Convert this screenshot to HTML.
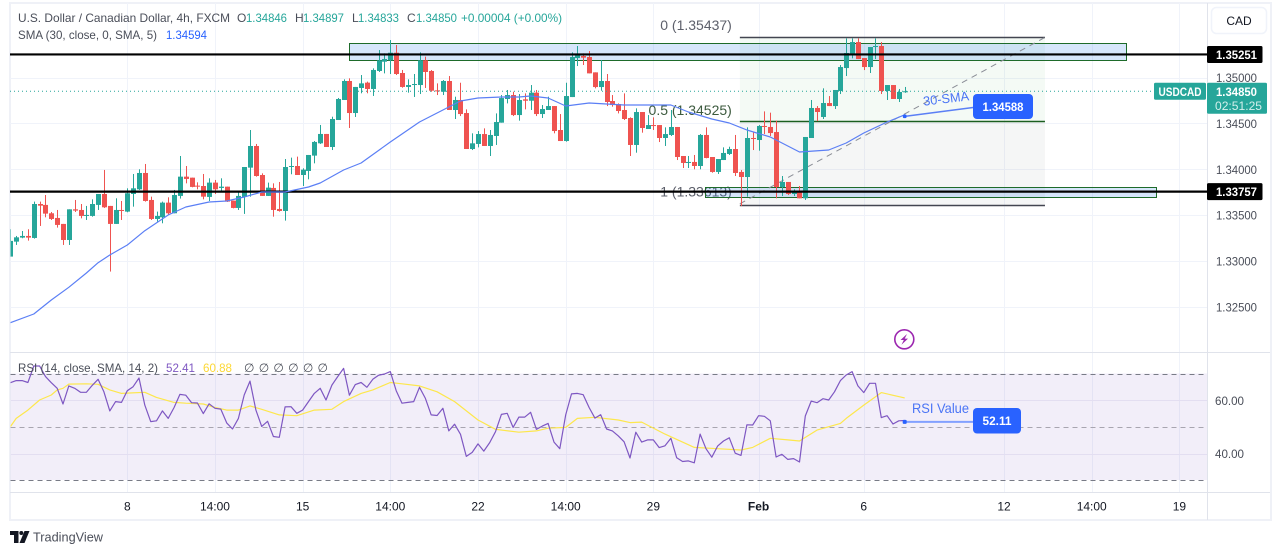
<!DOCTYPE html>
<html lang="en">
<head>
<meta charset="utf-8">
<title>USD/CAD 4h chart</title>
<style>
html,body{margin:0;padding:0;background:#fff;}
body{width:1281px;height:555px;overflow:hidden;}
svg{display:block;font-family:"Liberation Sans","DejaVu Sans",sans-serif;}
</style>
</head>
<body>
<svg id="chart" xmlns="http://www.w3.org/2000/svg" width="1281" height="555" viewBox="0 0 1281 555">
  <defs><clipPath id="pane-clip"><rect x="10.5" y="3" width="1196.5" height="349"/></clipPath>
  <clipPath id="rsi-clip"><rect x="10.5" y="353" width="1196.5" height="139"/></clipPath></defs>
  <rect x="10" y="3" width="1261" height="517" fill="#fff" stroke="#eff1f7" stroke-width="2"/>
  <g id="grid"></g>
  <rect x="10.5" y="373.5" width="1196.5" height="106.5" fill="#7e57c2" fill-opacity="0.1"/>
  <g id="rsi-grid"></g>
  <g id="drawings-back" clip-path="url(#pane-clip)"></g>
  <g id="candles" clip-path="url(#pane-clip)"></g>
  <g id="levels"></g>
  <g id="sma" clip-path="url(#pane-clip)"></g>
  <g id="rsi-lines" clip-path="url(#rsi-clip)"></g>
  <line x1="10" y1="352.5" x2="1270" y2="352.5" stroke="#e0e3eb" stroke-width="1"/>
  <line x1="10" y1="492.5" x2="1270" y2="492.5" stroke="#e0e3eb" stroke-width="1"/>
  <line x1="1207.5" y1="3" x2="1207.5" y2="520" stroke="#e0e3eb" stroke-width="1"/>
  <g id="axes"></g>

  <g font-size="12" fill="#4a4e59">
    <text x="18" y="22" textLength="212" lengthAdjust="spacingAndGlyphs">U.S. Dollar / Canadian Dollar, 4h, FXCM</text>
    <text x="237" y="22">O</text>
    <text x="246" y="22" fill="#26a69a" textLength="41" lengthAdjust="spacingAndGlyphs">1.34846</text>
    <text x="295" y="22">H</text>
    <text x="303" y="22" fill="#26a69a" textLength="41" lengthAdjust="spacingAndGlyphs">1.34897</text>
    <text x="352" y="22">L</text>
    <text x="358" y="22" fill="#26a69a" textLength="41" lengthAdjust="spacingAndGlyphs">1.34833</text>
    <text x="407" y="22">C</text>
    <text x="416" y="22" fill="#26a69a" textLength="41" lengthAdjust="spacingAndGlyphs">1.34850</text>
    <text x="461" y="22" fill="#26a69a" textLength="101" lengthAdjust="spacingAndGlyphs">+0.00004 (+0.00%)</text>
    <text x="18" y="39" textLength="139" lengthAdjust="spacingAndGlyphs">SMA (30, close, 0, SMA, 5)</text>
    <text x="166" y="39" fill="#2962ff" textLength="41" lengthAdjust="spacingAndGlyphs">1.34594</text>
    <text x="18" y="372" textLength="140" lengthAdjust="spacingAndGlyphs">RSI (14, close, SMA, 14, 2)</text>
    <text x="166" y="372" fill="#7e57c2" textLength="29" lengthAdjust="spacingAndGlyphs">52.41</text>
    <text x="203" y="372" fill="#fdd835" textLength="29" lengthAdjust="spacingAndGlyphs">60.88</text>
    <text x="244" y="372" textLength="84" lengthAdjust="spacing">∅ ∅ ∅ ∅ ∅ ∅</text>
  </g>

  <g>
    <rect x="1211.5" y="7.5" width="55" height="26" rx="5" fill="#fff" stroke="#f0f3fa" stroke-width="1.5"/>
    <text x="1239" y="25" font-size="12" fill="#131722" text-anchor="middle">CAD</text>
  </g>

  <g id="annotations"></g>

  <g>
    <circle cx="904.3" cy="339.3" r="9.5" fill="#fff" stroke="#9c27b0" stroke-width="1.6"/>
    <polygon points="907,334 900.5,340 903.8,340 901.5,344.8 908,338.6 904.7,338.6" fill="#9c27b0"/>
  </g>

  <g>
    <polygon points="10,531 18.5,531 18.5,543 14,543 14,535 10,535" fill="#131722"/>
    <circle cx="21.3" cy="533" r="2" fill="#131722"/>
    <polygon points="24.5,531 29.5,531 24.5,543 19.5,543" fill="#131722"/>
    <text x="33" y="541.5" font-size="13" fill="#4a4e59" textLength="70" lengthAdjust="spacingAndGlyphs">TradingView</text>
  </g>
</svg>

<script>
const opens=[1.33049,1.33212,1.33256,1.33274,1.33252,1.33622,1.33612,1.33521,1.33470,1.33405,
1.33230,1.33564,1.33557,1.33492,1.33492,1.33612,1.33731,1.33601,1.33405,1.33557,
1.33539,1.33731,1.33782,1.33960,1.33666,1.33459,1.33477,1.33637,1.33521,1.33710,
1.33920,1.33909,1.33822,1.33818,1.33699,1.33855,1.33797,1.33811,1.33659,1.33579,
1.33699,1.34018,1.34254,1.33938,1.33710,1.33797,1.33568,1.33546,1.34029,1.34036,
1.33938,1.33982,1.34149,1.34283,1.34385,1.34243,1.34537,1.34755,1.34962,1.34613,
1.34886,1.34944,1.34875,1.35071,1.35172,1.35187,1.35270,1.35049,1.34897,1.34922,
1.34918,1.35187,1.35071,1.34860,1.34845,1.34962,1.34646,1.34755,1.34613,1.34221,
1.34276,1.34384,1.34254,1.34363,1.34508,1.34766,1.34809,1.34591,1.34762,1.34747,
1.34835,1.34602,1.34646,1.34689,1.34428,1.34308,1.34787,1.35212,1.35234,1.35223,
1.35056,1.34896,1.34962,1.34744,1.34711,1.34646,1.34559,1.34265,1.34624,1.34439,
1.34482,1.34482,1.34341,1.34374,1.34461,1.34145,1.34069,1.34080,1.34036,1.34374,
1.34134,1.33971,1.34101,1.34167,1.34221,1.33971,1.33916,1.34341,1.34319,1.34472,
1.34461,1.34406,1.33807,1.33862,1.33731,1.33757,1.33684,1.34341,1.34668,1.34570,
1.34722,1.34689,1.34853,1.35103,1.35256,1.35386,1.35212,1.35114,1.35339,1.35343,
1.34853,1.34918,1.34766,1.34846];
const highs=[1.33347,1.33274,1.33328,1.33347,1.33648,1.33648,1.33720,1.33535,1.33557,1.33405,
1.33564,1.33666,1.33622,1.33601,1.33673,1.33731,1.33993,1.33601,1.33684,1.33655,
1.33793,1.33949,1.34000,1.34058,1.33702,1.33539,1.33648,1.33695,1.33775,1.34145,
1.34036,1.33909,1.33858,1.33949,1.33902,1.33884,1.33902,1.33811,1.33659,1.33753,
1.34025,1.34428,1.34276,1.33956,1.33855,1.33847,1.33862,1.34112,1.34127,1.34138,
1.34011,1.34156,1.34308,1.34483,1.34385,1.34573,1.34777,1.34980,1.34991,1.34897,
1.35027,1.34955,1.35100,1.35299,1.35263,1.35408,1.35354,1.35082,1.34980,1.35038,
1.35274,1.35227,1.35081,1.34936,1.34972,1.35016,1.34791,1.34943,1.34653,1.34392,
1.34417,1.34446,1.34428,1.34609,1.34809,1.34864,1.34845,1.34820,1.34827,1.34918,
1.34864,1.34700,1.34791,1.34689,1.34602,1.34943,1.35274,1.35343,1.35263,1.35288,
1.35056,1.35190,1.35038,1.34809,1.34718,1.34827,1.34566,1.34664,1.34624,1.34591,
1.34566,1.34482,1.34457,1.34646,1.34461,1.34145,1.34145,1.34156,1.34384,1.34457,
1.34134,1.34112,1.34239,1.34246,1.34374,1.33992,1.34457,1.34410,1.34482,1.34631,
1.34617,1.34530,1.33927,1.33862,1.33782,1.33818,1.34352,1.34755,1.34689,1.34882,
1.34798,1.34864,1.35136,1.35426,1.35426,1.35426,1.35212,1.35332,1.35426,1.35386,
1.34918,1.34918,1.34875,1.34897];
const lows=[1.33049,1.33176,1.33249,1.33223,1.33245,1.33383,1.33477,1.33448,1.33365,1.33176,
1.33176,1.33535,1.33466,1.33448,1.33484,1.33557,1.33579,1.32886,1.33405,1.33448,
1.33532,1.33593,1.33775,1.33648,1.33448,1.33430,1.33412,1.33503,1.33521,1.33681,
1.33847,1.33804,1.33782,1.33673,1.33655,1.33731,1.33764,1.33644,1.33575,1.33557,
1.33514,1.33702,1.33920,1.33710,1.33710,1.33484,1.33539,1.33441,1.33946,1.33938,
1.33818,1.33891,1.34065,1.34276,1.34243,1.34210,1.34537,1.34755,1.34450,1.34570,
1.34828,1.34828,1.34799,1.35060,1.35045,1.35038,1.35027,1.34889,1.34835,1.34788,
1.34820,1.34886,1.34845,1.34809,1.34809,1.34646,1.34548,1.34580,1.34221,1.34210,
1.34239,1.34254,1.34145,1.34265,1.34508,1.34718,1.34580,1.34530,1.34653,1.34646,
1.34580,1.34559,1.34646,1.34392,1.34308,1.34301,1.34787,1.35125,1.35136,1.35045,
1.34882,1.34856,1.34689,1.34682,1.34609,1.34537,1.34145,1.34181,1.34399,1.34439,
1.34428,1.34297,1.34254,1.34363,1.34101,1.34014,1.34014,1.34000,1.34000,1.34120,
1.33963,1.33949,1.34101,1.34156,1.33927,1.33600,1.33702,1.34210,1.34203,1.34384,
1.34363,1.33684,1.33709,1.33720,1.33709,1.33684,1.33666,1.34341,1.34526,1.34548,
1.34689,1.34657,1.34820,1.35016,1.35209,1.35201,1.35081,1.35049,1.35201,1.34820,
1.34755,1.34766,1.34733,1.34833];
const closes=[1.33220,1.33259,1.33274,1.33256,1.33622,1.33604,1.33517,1.33459,1.33394,1.33230,
1.33564,1.33550,1.33492,1.33503,1.33622,1.33731,1.33586,1.33405,1.33557,1.33546,
1.33739,1.33793,1.33960,1.33655,1.33459,1.33492,1.33637,1.33521,1.33720,1.33920,
1.33895,1.33808,1.33811,1.33702,1.33855,1.33782,1.33811,1.33648,1.33579,1.33710,
1.34025,1.34254,1.33927,1.33710,1.33800,1.33557,1.33546,1.34025,1.34036,1.33938,
1.33996,1.34156,1.34298,1.34385,1.34243,1.34548,1.34766,1.34962,1.34613,1.34897,
1.34936,1.34875,1.35082,1.35187,1.35201,1.35270,1.35038,1.34897,1.34918,1.34929,
1.35187,1.35060,1.34856,1.34849,1.34962,1.34646,1.34755,1.34602,1.34221,1.34283,
1.34384,1.34254,1.34374,1.34515,1.34776,1.34809,1.34591,1.34755,1.34747,1.34835,
1.34602,1.34657,1.34689,1.34417,1.34308,1.34798,1.35223,1.35245,1.35216,1.35045,
1.34896,1.34962,1.34733,1.34700,1.34635,1.34548,1.34265,1.34624,1.34450,1.34482,
1.34472,1.34341,1.34384,1.34461,1.34134,1.34069,1.34080,1.34036,1.34374,1.34123,
1.33971,1.34112,1.34178,1.34221,1.33960,1.33916,1.34341,1.34330,1.34472,1.34461,
1.34395,1.33807,1.33862,1.33731,1.33764,1.33684,1.34352,1.34668,1.34624,1.34722,
1.34689,1.34864,1.35114,1.35267,1.35386,1.35201,1.35114,1.35332,1.35343,1.34853,
1.34918,1.34766,1.34842,1.34850];

const smaBars=[0,4,7,10,13,15,17,20,23,27,30,34,37,40,43,47,51,53,57,60,65,67,70,72,75,77,80,84,87,89,92,95,99,102,105,106,109,113,116,120,123,126,130,135,140,143,146,150,153];
const smaValues=[1.32329,1.32424,1.32576,1.32715,1.32870,1.32983,1.33066,1.33175,1.33331,1.33502,1.33589,1.33644,1.33655,1.33698,1.33753,1.33753,1.33807,1.33851,1.33992,1.34069,1.34297,1.34385,1.34515,1.34581,1.34679,1.34744,1.34777,1.34788,1.34788,1.34798,1.34777,1.34690,1.34722,1.34711,1.34700,1.34700,1.34700,1.34700,1.34624,1.34548,1.34504,1.34428,1.34352,1.34188,1.34210,1.34286,1.34395,1.34515,1.34594];

const rsiValues=[66.6,67.4,67.4,66.7,72.9,72.9,68.9,66.6,64.5,58.6,65.4,64.5,63.0,63.0,65.6,67.9,63.2,56.0,59.5,59.2,
63.6,65.1,68.4,58.2,52.0,52.3,56.0,53.2,57.3,62.2,61.9,59.1,59.0,55.0,58.7,57.0,56.7,51.5,49.2,53.2,
62.0,67.2,56.3,50.2,52.1,46.4,46.1,57.5,57.6,55.1,56.3,59.5,62.6,64.5,60.1,65.7,68.9,72.0,61.9,65.9,
66.7,64.9,67.9,69.4,69.9,70.8,63.6,58.9,59.2,59.5,64.9,60.7,54.5,54.3,57.0,48.5,51.0,47.2,38.9,40.4,
43.6,40.9,44.1,48.2,54.7,55.1,49.8,53.7,53.7,55.5,49.1,50.3,51.3,44.3,41.8,54.5,62.4,62.6,62.1,57.3,
53.3,54.6,49.2,48.5,46.6,44.4,38.3,48.0,44.3,45.1,45.1,42.2,42.9,45.7,38.4,37.0,37.2,36.5,47.3,41.8,
38.6,42.8,44.7,45.9,40.1,39.3,50.8,50.7,54.2,54.0,52.3,38.7,39.7,37.8,38.1,36.8,54.1,59.7,59.1,60.6,
60.1,63.2,67.4,69.5,70.8,65.4,62.9,66.4,66.4,53.5,54.2,51.1,52.3,52.4];

const rsiSmaBars=[0,1,3,5,7,8,9,10,13,15,17,19,23,25,28,30,33,35,37,39,41,43,46,49,52,55,57,60,62,65,67,70,73,76,80,83,87,90,92,95,97,100,104,106,108,112,117,121,125,127,130,133,135,138,142,143,146,149,153];
const rsiSmaValues=[50.1,53.2,56.3,60.1,62.0,63.9,64.5,66.1,66.2,66.0,63.9,62.6,63.0,61.1,59.2,58.9,58.6,57.3,56.3,56.3,57.9,56.6,54.5,54.2,56.3,56.6,59.5,62.6,63.9,66.7,66.2,65.4,63.2,59.5,52.6,49.1,48.0,48.5,49.5,49.8,53.2,53.6,52.6,51.6,51.8,47.3,42.3,41.8,41.3,42.3,45.7,45.1,44.7,48.8,51.3,53.2,58.2,62.9,60.9];

const priceTicks=[1.35,1.345,1.34,1.335,1.33,1.325];
const rsiTicks=[60,40];
const rsiBands=[70,50,30];
const timeBars=[20,35,50,65,80,95,110,128,146,170,185,200];
const timeLabels=["8","14:00","15","14:00","22","14:00","29","Feb","6","12","14:00","19"];
const keyLevels=[1.35251,1.33757];
const lastPrice=1.3485;
const fibLevels=[1.35437,1.34525,1.33613];
const fibNames=["0","0.5","1"];
const zoneTop=[1.35373,1.35187];
const zoneBottom=[1.33810,1.33701];
const smaNote=1.34588;
const rsiNote=52.11;

const NS="http://www.w3.org/2000/svg";
const xBar=i=>10.4+5.845*i;
const yPrice=p=>77.5+(1.35-p)*9180;
const yRsi=v=>400.3+(60-v)*2.66;
const UP="#26a69a",DOWN="#ef5350";
function mk(parent,tag,attrs,text){
  const el=document.createElementNS(NS,tag);
  for(const k in attrs)el.setAttribute(k,attrs[k]);
  if(text!==undefined)el.textContent=text;
  parent.appendChild(el);
  return el;
}
const $=id=>document.getElementById(id);
let el;

/* grid */
timeBars.forEach((b,k)=>{
  const x=Math.round(xBar(b))+0.5;
  el=mk($("grid"),"line",{x1:x,x2:x,y1:3,y2:492,stroke:"#f0f3fa","stroke-width":1});
  
  
  el=mk($("axes"),"text",{x:xBar(b),y:510.5,"font-size":12,"text-anchor":"middle",fill:"#131722","font-weight":timeLabels[k]==="Feb"?"bold":"normal"},timeLabels[k]);
  
  
});
priceTicks.forEach(p=>{
  const y=Math.round(yPrice(p))+0.5;
  el=mk($("grid"),"line",{x1:10,x2:1207,y1:y,y2:y,stroke:"#f0f3fa","stroke-width":1});
  
  
  el=mk($("axes"),"text",{x:1216,y:yPrice(p)+4.5,"font-size":12,fill:"#4a4e59",textLength:41,lengthAdjust:"spacingAndGlyphs"},p.toFixed(5));
  
  
});
rsiTicks.forEach(v=>{
  const y=Math.round(yRsi(v))+0.5;
  el=mk($("rsi-grid"),"line",{x1:10.5,x2:1207,y1:y,y2:y,stroke:"#e3def1","stroke-width":1});
  
  
  el=mk($("axes"),"text",{x:1215,y:yRsi(v)+4.5,"font-size":12,fill:"#4a4e59",textLength:29,lengthAdjust:"spacingAndGlyphs"},v.toFixed(2));
  
  
});
rsiBands.forEach(v=>{
  const y=Math.round(yRsi(v))+0.5;
  el=mk($("rsi-grid"),"line",{x1:10.5,x2:1207,y1:y,y2:y,stroke:v===50?"#a8a5b0":"#787b86","stroke-width":1,"stroke-dasharray":"5 4"});
  
  
});

/* fib retracement and zones */
const back=$("drawings-back");
const fx1=xBar(124.8),fx2=xBar(177);
el=mk(back,"rect",{x:fx1,y:yPrice(fibLevels[0]),width:fx2-fx1,height:yPrice(fibLevels[1])-yPrice(fibLevels[0]),fill:"#4caf50","fill-opacity":0.06});


el=mk(back,"rect",{x:fx1,y:yPrice(fibLevels[1]),width:fx2-fx1,height:yPrice(fibLevels[2])-yPrice(fibLevels[1]),fill:"#787b86","fill-opacity":0.07});


fibLevels.forEach((p,k)=>{
  el=mk(back,"text",{x:fx1-8,y:yPrice(p)-(k===1?6:7.5)+(k===2?-1:0),"font-size":14,"text-anchor":"end",fill:k===1?"#3c5a3e":"#5d606b"},fibNames[k]+" ("+p.toFixed(5)+")");
  
  
});
[[58,191,zoneTop],[118.8,196,zoneBottom]].forEach(z=>{
  el=mk(back,"rect",{x:Math.round(xBar(z[0]))+0.5,y:Math.round(yPrice(z[2][0]))+0.5,width:Math.round(xBar(z[1])-xBar(z[0])),height:Math.round(yPrice(z[2][1])-yPrice(z[2][0])),fill:"#3282eb","fill-opacity":0.2,stroke:"#1e6b2a","stroke-width":1});
  
  
});
fibLevels.forEach((p,k)=>{
  const col=k===1?"#1b5e20":"#434651";
  const y=Math.round(yPrice(p))+0.5;
  el=mk(back,"line",{x1:fx1,x2:fx2,y1:y,y2:y,stroke:col,"stroke-width":k===1?1.6:1.4});
  
  
});
el=mk(back,"line",{x1:fx1,y1:yPrice(fibLevels[2])-1,x2:fx2,y2:yPrice(fibLevels[0]),stroke:"#8a8d96","stroke-width":1,"stroke-dasharray":"6 5"});



/* candles */
opens.forEach((o,i)=>{
  const c=closes[i],col=c>=o?UP:DOWN,xc=Math.round(xBar(i));
  const g=mk($("candles"),"g",{fill:col});
  
  
  const yH=yPrice(highs[i]),yL=yPrice(lows[i]);
  el=mk(g,"rect",{x:xc,y:yH,width:1,height:Math.max(1,yL-yH)});
  
  
  const yT=yPrice(Math.max(o,c)),yB=yPrice(Math.min(o,c));
  el=mk(g,"rect",{x:xc-2,y:yT,width:5,height:Math.max(1,yB-yT)});
  
  
});

/* key levels and last price */
keyLevels.forEach(p=>{
  el=mk($("levels"),"line",{x1:10,x2:1207,y1:yPrice(p),y2:yPrice(p),stroke:"#000","stroke-width":2.2});
  
  
  const y=yPrice(p);
  el=mk($("axes"),"rect",{x:1207,y:y-8.5,width:55.5,height:17,rx:1.5,fill:"#000"});
  
  
  el=mk($("axes"),"text",{x:1216,y:y+4.5,"font-size":12,"font-weight":"bold",fill:"#fff",textLength:41,lengthAdjust:"spacingAndGlyphs"},p.toFixed(5));
  
  
});
el=mk($("levels"),"line",{x1:10,x2:1154,y1:yPrice(lastPrice),y2:yPrice(lastPrice),stroke:UP,"stroke-width":1,"stroke-dasharray":"1 3"});


const yLast=yPrice(lastPrice);
el=mk($("axes"),"rect",{x:1154,y:yLast-8.5,width:52,height:17,rx:1.5,fill:UP});


el=mk($("axes"),"text",{x:1180,y:yLast+4.5,"font-size":12,"font-weight":"bold",fill:"#fff","text-anchor":"middle",textLength:43,lengthAdjust:"spacingAndGlyphs"},"USDCAD");


el=mk($("axes"),"rect",{x:1207,y:yLast-8.5,width:60,height:31,rx:1.5,fill:UP});


el=mk($("axes"),"text",{x:1216,y:yLast+4.5,"font-size":12,"font-weight":"bold",fill:"#fff",textLength:41,lengthAdjust:"spacingAndGlyphs"},lastPrice.toFixed(5));


el=mk($("axes"),"text",{x:1215,y:yLast+18.5,"font-size":12,fill:"#d4f0ec",textLength:47,lengthAdjust:"spacingAndGlyphs"},"02:51:25");



/* lines */
const poly=(xs,ys,fx,fy)=>xs.map((v,k)=>fx(v).toFixed(1)+","+fy(ys[k]).toFixed(1)).join(" ");
el=mk($("sma"),"polyline",{points:poly(smaBars,smaValues,xBar,yPrice),fill:"none",stroke:"#5b7ff5","stroke-width":1.2,"stroke-linejoin":"round"});


el=mk($("rsi-lines"),"polyline",{points:poly(rsiSmaBars,rsiSmaValues,xBar,yRsi),fill:"none",stroke:"#fde74c","stroke-width":1.2,"stroke-linejoin":"round"});


el=mk($("rsi-lines"),"polyline",{points:poly(rsiValues.map((v,i)=>i),rsiValues,xBar,yRsi),fill:"none",stroke:"#7e57c2","stroke-width":1.2,"stroke-linejoin":"round"});



/* annotations */
const ann=$("annotations");
const ax=xBar(153);
const smaY=yPrice(smaNote)+1,smaEndY=107.3,rsiY=yRsi(rsiNote)+0.6;
el=mk(ann,"line",{x1:ax,y1:smaY,x2:975,y2:smaEndY,stroke:"#5b7ff5","stroke-width":1.5});


el=mk(ann,"rect",{x:ax-1.8,y:smaY-1.8,width:3.6,height:3.6,rx:1,fill:"#2962ff"});


el=mk(ann,"rect",{x:973,y:94,width:60,height:25,rx:4,fill:"#2962ff"});


el=mk(ann,"text",{x:1003,y:111,"font-size":12,"font-weight":"bold",fill:"#fff","text-anchor":"middle",textLength:41,lengthAdjust:"spacingAndGlyphs"},smaNote.toFixed(5));


el=mk(ann,"text",{x:946,y:103,"font-size":13,fill:"#4a74f5","text-anchor":"middle",textLength:46,lengthAdjust:"spacingAndGlyphs",transform:"rotate(-7 946 98)"},"30-SMA");


el=mk(ann,"line",{x1:ax,y1:rsiY,x2:975,y2:rsiY,stroke:"#82a0ff","stroke-width":2});


el=mk(ann,"rect",{x:ax-2,y:rsiY-2,width:4,height:4,rx:1,fill:"#2962ff"});


el=mk(ann,"rect",{x:973,y:408,width:48,height:25.5,rx:4,fill:"#2962ff"});


el=mk(ann,"text",{x:997,y:425,"font-size":12,"font-weight":"bold",fill:"#fff","text-anchor":"middle",textLength:29,lengthAdjust:"spacingAndGlyphs"},rsiNote.toFixed(2));


el=mk(ann,"text",{x:912,y:413,"font-size":14,fill:"#4a74f5",textLength:57,lengthAdjust:"spacingAndGlyphs"},"RSI Value");


</script>
</body>
</html>
